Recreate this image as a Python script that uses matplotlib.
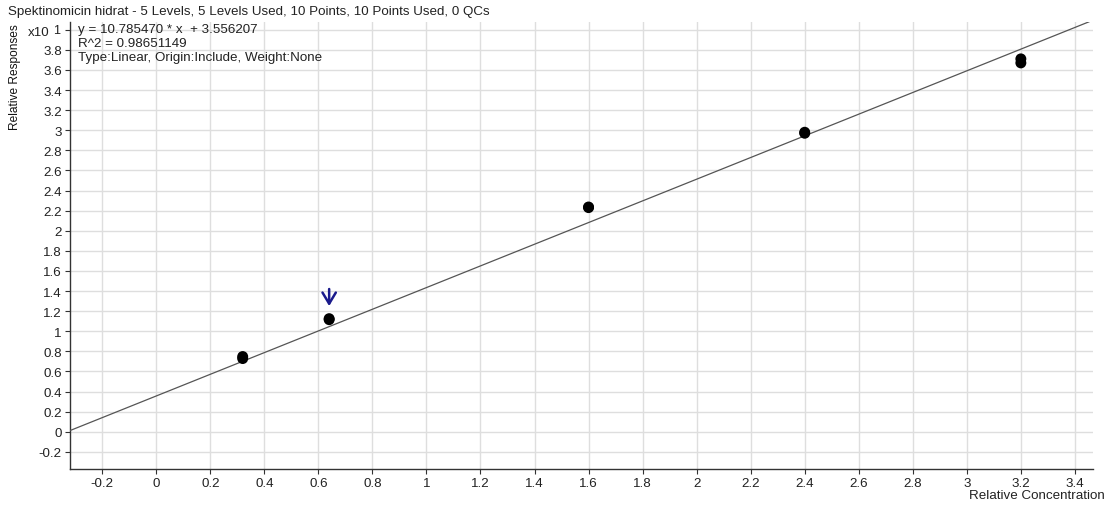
import matplotlib
matplotlib.use("Agg")
import matplotlib.pyplot as plt
import numpy as np

plt.rcParams['font.family'] = ['Liberation Sans', 'DejaVu Sans']

title = "Spektinomicin hidrat - 5 Levels, 5 Levels Used, 10 Points, 10 Points Used, 0 QCs"
conc = [0.32, 0.32, 0.64, 0.64, 1.6, 1.6, 2.4, 2.4, 3.2, 3.2]
resp = [0.728, 0.748, 1.115, 1.125, 2.23, 2.236, 2.97, 2.98, 3.67, 3.71]
slope = 10.785470
intercept = 3.556207
r2 = 0.98651149
scale = 10.0
flag_x = 0.64
flag_y = 1.12

xticks = [-0.2, 0, 0.2, 0.4, 0.6, 0.8, 1, 1.2, 1.4, 1.6, 1.8, 2, 2.2, 2.4, 2.6, 2.8, 3, 3.2, 3.4]
yticks = [-0.2, 0, 0.2, 0.4, 0.6, 0.8, 1, 1.2, 1.4, 1.6, 1.8, 2, 2.2, 2.4, 2.6, 2.8, 3, 3.2, 3.4, 3.6, 3.8, 4]

def fmt(v):
    return f"{v:g}"

FS = 9.6

fig = plt.figure(figsize=(11.07, 5.06), dpi=100)
W, H = 1107, 506
left, right, top, bottom = 69.5, 1093, 23, 470
ax = fig.add_axes([left / W, 1 - bottom / H, (right - left) / W, (bottom - top) / H])

xmin, xmax = -0.321, 3.467
ymin, ymax = -0.371, 4.077
ax.set_xlim(xmin, xmax)
ax.set_ylim(ymin, ymax)

ax.set_xticks(xticks)
ax.set_xticklabels([fmt(v) for v in xticks])
ax.set_yticks(yticks)
ax.set_yticklabels([fmt(v) for v in yticks[:-1]] + [""])

ax.grid(True, color='#dedede', linewidth=1.0)
ax.set_axisbelow(True)
for s in ['top', 'right']:
    ax.spines[s].set_visible(False)
for s in ['left', 'bottom']:
    ax.spines[s].set_color('#333333')
    ax.spines[s].set_linewidth(1.0)
ax.tick_params(axis='both', colors='#333333', labelsize=FS, length=3.5, width=0.8, pad=2)
ax.tick_params(axis='both', labelcolor='#222222')

# fit line
xl = np.array([xmin, 3.452])
ax.plot(xl, (slope * xl + intercept) / scale, color='#555555', linewidth=0.9, zorder=3)

# points
ax.scatter(conc, resp, s=62, color='black', zorder=4, edgecolors='none')

# flag arrow
ax.annotate("", xy=(flag_x, flag_y + 0.13), xytext=(flag_x, flag_y + 0.30),
            arrowprops=dict(arrowstyle='->,head_length=0.5,head_width=0.3', color='#1a1a8c',
                            lw=1.8, mutation_scale=16, shrinkA=0, shrinkB=0),
            zorder=5)

# texts
fig.text(8 / W, 1 - 12 / H, title, fontsize=FS, ha='left', va='center', color='#222222')
ax.text(0.008, 0.997, f"y = {slope:.6f} * x  + {intercept:.6f}\nR^2 = {r2:.8f}\nType:Linear, Origin:Include, Weight:None",
        transform=ax.transAxes, fontsize=FS, ha='left', va='top', linespacing=1.22, color='#222222')
fig.text(28 / W, 1 - 33 / H, "x10", fontsize=FS, ha='left', va='center', color='#222222')
fig.text(53 / W, 1 - 31 / H, "1", fontsize=FS - 0.5, ha='left', va='center', color='#222222')
fig.text(15 / W, 1 - 24 / H, "Relative Responses", fontsize=8.6, rotation=90, ha='center', va='top', color='#111111')
fig.text(1105 / W, 1 - 496 / H, "Relative Concentration", fontsize=FS, ha='right', va='center', color='#222222')

fig.savefig("out.png", dpi=100)
